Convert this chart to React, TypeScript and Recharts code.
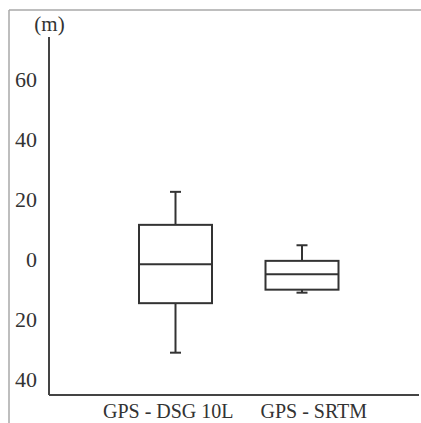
import { ComposedChart, Bar, XAxis, YAxis, Customized } from "recharts";

// Box plot of elevation differences (m)
const categories = ["GPS - DSG 10L", "GPS - SRTM"];
const whiskerMin = [-30.9, -10.9];
const quartile1 = [-14.4, -9.9];
const medians = [-1.4, -4.8];
const quartile3 = [11.7, -0.3];
const whiskerMax = [22.7, 4.9];

const yTicks = [60, 40, 20, 0, -20, -40];

const data = categories.map((name, i) => ({
  name,
  min: whiskerMin[i],
  q1: quartile1[i],
  median: medians[i],
  q3: quartile3[i],
  max: whiskerMax[i],
}));

const INK = "#333";
const FONT = "Liberation Serif, DejaVu Serif, serif";
// label placement relative to the box centre, as in the source figure
const TICK_SHIFT = [-7, 12];

const BoxShape = (props: any) => {
  const { x, y, width, height, payload } = props;
  const top = Math.min(y, y + height);
  const h = Math.abs(height);
  const span = payload.max - payload.min;
  const py = (v: number) => top + ((payload.max - v) / span) * h;
  const cx = x + width / 2;
  const cap = 5.5;
  return (
    <g stroke={INK} strokeWidth={2} fill="none">
      <line x1={cx} x2={cx} y1={py(payload.max)} y2={py(payload.q3)} />
      <line x1={cx} x2={cx} y1={py(payload.q1)} y2={py(payload.min)} />
      <line x1={cx - cap} x2={cx + cap} y1={py(payload.max)} y2={py(payload.max)} />
      <line x1={cx - cap} x2={cx + cap} y1={py(payload.min)} y2={py(payload.min)} />
      <rect x={x} y={py(payload.q3)} width={width} height={py(payload.q1) - py(payload.q3)} />
      <line x1={x} x2={x + width} y1={py(payload.median)} y2={py(payload.median)} />
    </g>
  );
};

const CategoryTick = (props: any) => {
  const { x, y, payload, index } = props;
  return (
    <text
      x={x + (TICK_SHIFT[index] ?? 0)}
      y={y}
      dy={23}
      textAnchor="middle"
      fill={INK}
      style={{ fontFamily: FONT, fontSize: 20 }}
    >
      {payload.value}
    </text>
  );
};

const ValueTick = (props: any) => {
  const { x, y, payload } = props;
  return (
    <text
      x={x}
      y={y}
      dy={7.5}
      textAnchor="end"
      fill={INK}
      style={{ fontFamily: FONT, fontSize: 22 }}
    >
      {Math.abs(payload.value)}
    </text>
  );
};

const Decor = () => (
  <g>
    <line x1={9} x2={421} y1={10} y2={10} stroke="#a8a8a8" strokeWidth={1.5} />
    <line x1={9} x2={9} y1={10} y2={423} stroke="#a8a8a8" strokeWidth={1.5} />
    <text x={49.5} y={31} textAnchor="middle" fill={INK} style={{ fontFamily: FONT, fontSize: 21 }}>
      (m)
    </text>
  </g>
);

export default function App() {
  return (
    <div style={{ position: "absolute", left: 0, top: 0, background: "#fff" }}>
      <ComposedChart
        width={421}
        height={423}
        data={data}
        margin={{ top: 37, right: 2, bottom: 27, left: 0 }}
      >
        <XAxis
          dataKey="name"
          type="category"
          height={1}
          padding={{ left: 63, right: 54 }}
          axisLine={{ stroke: "#444", strokeWidth: 2 }}
          tickLine={false}
          tickSize={0}
          tickMargin={0}
          tick={<CategoryTick />}
          interval={0}
        />
        <YAxis
          type="number"
          domain={[-45, 74.3]}
          ticks={yTicks}
          interval={0}
          width={49}
          axisLine={{ stroke: "#444", strokeWidth: 2 }}
          tickLine={false}
          tickSize={0}
          tickMargin={12}
          tick={<ValueTick />}
          allowDataOverflow
        />
        <Bar
          dataKey={(d: any) => [d.min, d.max]}
          barSize={73}
          shape={<BoxShape />}
          isAnimationActive={false}
        />
        <Customized component={Decor} />
      </ComposedChart>
    </div>
  );
}
